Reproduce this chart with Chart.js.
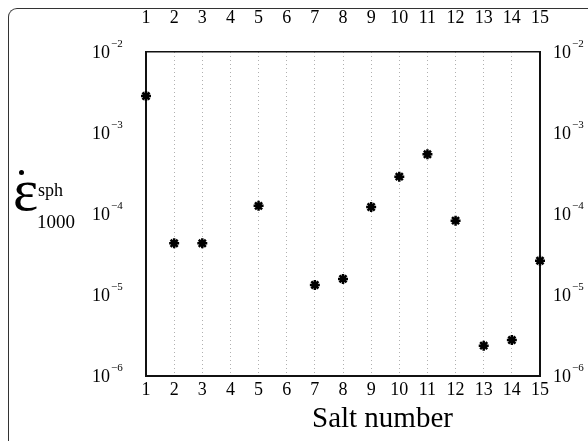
<!DOCTYPE html>
<html>
<head>
<meta charset="utf-8">
<script src="https://cdn.jsdelivr.net/npm/chart.js@4.4.0/dist/chart.umd.min.js"></script>
<style>
    html, body { margin: 0; padding: 0; background: #fff; }
    #wrap { position: relative; width: 588px; height: 441px; overflow: hidden; font-family: "Liberation Serif", serif; }
    #frame { position: absolute; left: 8px; top: 8px; width: 620px; height: 480px; border-left: 1.5px solid #333; border-top: 1.5px solid #333; border-top-left-radius: 9px; }
    canvas { position: absolute; left: 0; top: 0; }
    .t { position: absolute; white-space: nowrap; color: #000; line-height: 1; }
    #dot { position: absolute; left: 19px; top: 170px; width: 5px; height: 5px; border-radius: 50%; background: #000; }
</style>
</head>
<body>
<div id="wrap">
    <div id="frame"></div>
    <canvas id="chart" width="588" height="441"></canvas>
    <div id="dot"></div>
    <div class="t" style="left:13px;top:160px;font-size:60px;">ε</div>
    <div class="t" style="left:38px;top:181px;font-size:18px;">sph</div>
    <div class="t" style="left:37px;top:212px;font-size:19px;">1000</div>
    <div class="t" style="left:312px;top:403px;font-size:29px;">Salt number</div>
</div>
<script>
// salt numbers (4 and 6 have no value) and strain rates
const salts = [1, 2, 3, 5, 7, 8, 9, 10, 11, 12, 13, 14, 15];
const rates = [2.86e-3, 4.35e-5, 4.35e-5, 1.26e-4, 1.33e-5, 1.58e-5, 1.22e-4, 2.89e-4, 5.46e-4, 8.27e-5, 2.37e-6, 2.78e-6, 2.65e-5];
const xTicks = [1, 2, 3, 4, 5, 6, 7, 8, 9, 10, 11, 12, 13, 14, 15];
const yDecades = [1e-6, 1e-5, 1e-4, 1e-3, 1e-2];
const yExponents = ['\u22126', '\u22125', '\u22124', '\u22123', '\u22122'];

const serif = '"Liberation Serif", serif';

function setTicks(values) {
    return scale => { scale.ticks = values.map(v => ({ value: v })); };
}

// y labels drawn as 10 with a raised exponent, on both sides
const powerLabels = {
    id: 'powerLabels',
    afterDraw(chart) {
        const ctx = chart.ctx;
        const y = chart.scales.y;
        ctx.save();
        ctx.fillStyle = '#000';
        ctx.textBaseline = 'middle';
        ctx.textAlign = 'left';
        yDecades.forEach((v, i) => {
            const py = y.getPixelForValue(v) + 1;
            [92, 553].forEach(px => {
                ctx.font = '18px ' + serif;
                ctx.fillText('10', px, py);
                const w = ctx.measureText('10').width;
                ctx.font = '11px ' + serif;
                ctx.fillText(yExponents[i], px + w + 1, py - 9);
            });
        });
        ctx.restore();
    }
};

const xTickFont = { family: serif, size: 18 };

new Chart(document.getElementById('chart'), {
    type: 'scatter',
    data: {
        datasets: [{
            data: salts.map((s, i) => ({ x: s, y: rates[i] })),
            pointStyle: 'star',
            radius: 5,
            borderWidth: 2.5,
            borderColor: '#000',
            backgroundColor: '#000',
            clip: false
        }]
    },
    options: {
        responsive: false,
        animation: false,
        layout: { padding: 0 },
        plugins: {
            legend: { display: false },
            tooltip: { enabled: false }
        },
        scales: {
            x: {
                type: 'linear',
                position: 'bottom',
                min: 1,
                max: 15,
                afterBuildTicks: setTicks(xTicks),
                afterFit: s => { s.height = 65; },
                ticks: { color: '#000', font: xTickFont, padding: 3, maxRotation: 0, autoSkip: false },
                grid: {
                    drawTicks: false,
                    lineWidth: 1,
                    color: c => (c.tick && (c.tick.value === 1 || c.tick.value === 15)) ? 'rgba(0,0,0,0)' : '#b0b0b0'
                },
                border: { color: '#111', width: 2, dash: [1, 3] }
            },
            x2: {
                type: 'linear',
                axis: 'x',
                position: 'top',
                min: 1,
                max: 15,
                afterBuildTicks: setTicks(xTicks),
                afterFit: s => { s.height = 52; },
                ticks: { color: '#000', font: xTickFont, padding: 15, maxRotation: 0, autoSkip: false },
                grid: { display: false },
                border: { color: '#111', width: 1.5 }
            },
            y: {
                type: 'logarithmic',
                position: 'left',
                min: 1e-6,
                max: 1e-2,
                afterBuildTicks: setTicks(yDecades),
                afterFit: s => { s.width = 146; },
                ticks: { display: false },
                grid: { display: false },
                border: { color: '#111', width: 2 }
            },
            y2: {
                type: 'logarithmic',
                axis: 'y',
                position: 'right',
                min: 1e-6,
                max: 1e-2,
                afterBuildTicks: setTicks(yDecades),
                afterFit: s => { s.width = 48; },
                ticks: { display: false },
                grid: { display: false },
                border: { color: '#111', width: 2 }
            }
        }
    },
    plugins: [powerLabels]
});
</script>
</body>
</html>
